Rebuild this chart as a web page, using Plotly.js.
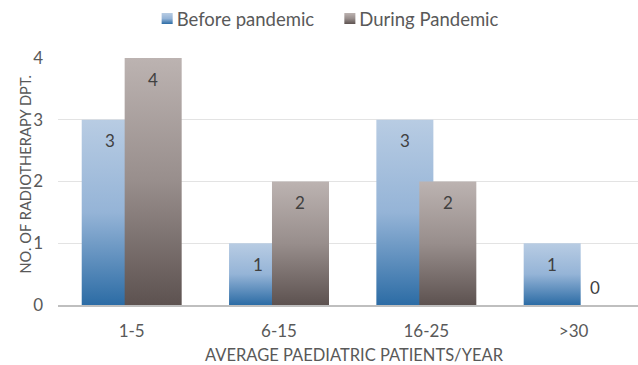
<!DOCTYPE html>
<html><head><meta charset="utf-8">
<script src="https://cdn.plot.ly/plotly-3.0.1.min.js"></script>
<style>html,body{margin:0;padding:0;background:#fff;}#chart{width:638px;height:365px;}</style>
</head><body><div id="chart"></div>
<script>
// ---- data ----
const categories = ['1-5', '6-15', '16-25', '>30'];
const beforePandemic = [3, 1, 3, 1];
const duringPandemic = [4, 2, 2, 0];
const seriesNames = ['Before pandemic', 'During Pandemic'];
const yTickValues = [0, 1, 2, 3, 4];
const xAxisTitle = 'AVERAGE PAEDIATRIC PATIENTS/YEAR';
const yAxisTitle = 'NO. OF RADIOTHERAPY DPT.';

// ---- styling ----
const FONT = 'Lato, "Open Sans", sans-serif';
const TXT = '#595959';
const BAR_W = 0.387;
const OFFSETS = [-0.339, -0.0475];
const seriesValues = [beforePandemic, duringPandemic];
const baseColors = ['#8fb0d4', '#8e8482'];
const gradIds = ['gradBlue', 'gradGray'];

const traces = seriesValues.map((vals, s) => ({
  type: 'bar',
  name: seriesNames[s],
  x: categories,
  y: vals,
  width: BAR_W,
  offset: OFFSETS[s],
  marker: {color: baseColors[s], line: {width: 0}},
  hoverinfo: 'none'
}));

const annotations = [];
seriesValues.forEach((vals, s) => {
  vals.forEach((v, i) => {
    annotations.push({
      x: i + OFFSETS[s] + BAR_W / 2, y: v, xref: 'x', yref: 'y',
      text: String(v), showarrow: false,
      yshift: v > 0 ? -21 : 18,
      font: {family: FONT, size: 17, color: '#404040'}
    });
  });
});
// axis titles placed as annotations (centred as in the reference)
annotations.push({
  xref: 'paper', yref: 'paper', x: 0.511, y: -0.202, xanchor: 'center', yanchor: 'middle',
  text: xAxisTitle, showarrow: false, font: {family: FONT, size: 16.5, color: TXT}
});
annotations.push({
  xref: 'paper', yref: 'paper', x: -0.056, y: 0.53, xanchor: 'center', yanchor: 'middle',
  textangle: -90, text: yAxisTitle, showarrow: false, font: {family: FONT, size: 14.7, color: TXT}
});

const layout = {
  width: 638, height: 365,
  margin: {l: 58, r: 0, t: 57, b: 60},
  paper_bgcolor: '#fff', plot_bgcolor: '#fff',
  barmode: 'overlay',
  showlegend: true,
  legend: {
    orientation: 'h', x: 0.452, xanchor: 'center', y: 1.157, yanchor: 'middle',
    font: {family: FONT, size: 18.5, color: TXT}, traceorder: 'normal'
  },
  xaxis: {
    type: 'category', range: [-0.5, 3.437],
    showline: true, linecolor: '#bfbfbf', linewidth: 1.5,
    ticks: '', showgrid: false, zeroline: false,
    tickfont: {family: FONT, size: 17, color: TXT}, ticklabelstandoff: 10
  },
  yaxis: {
    range: [0, 4], tickvals: yTickValues,
    showgrid: true, gridcolor: '#e3e3e3', gridwidth: 1,
    zeroline: false, showline: false, ticks: '',
    tickfont: {family: FONT, size: 17, color: TXT}, ticklabelstandoff: 14
  },
  annotations: annotations
};

const gradStops = [
  [['0%', '#b8cce3'], ['50%', '#95b4d7'], ['100%', '#2c6ca5']],
  [['0%', '#bcb3b1'], ['50%', '#988e8c'], ['100%', '#5d5250']]
];

function applyGradients(gd) {
  const svg = gd.querySelector('svg.main-svg');
  if (!svg) return;
  let defs = svg.querySelector('defs#customGrads');
  if (!defs) {
    const NS = 'http://www.w3.org/2000/svg';
    defs = document.createElementNS(NS, 'defs');
    defs.setAttribute('id', 'customGrads');
    gradIds.forEach((id, k) => {
      const g = document.createElementNS(NS, 'linearGradient');
      g.setAttribute('id', id);
      g.setAttribute('x1', '0'); g.setAttribute('y1', '0');
      g.setAttribute('x2', '0'); g.setAttribute('y2', '1');
      gradStops[k].forEach(([o, c]) => {
        const st = document.createElementNS(NS, 'stop');
        st.setAttribute('offset', o); st.setAttribute('stop-color', c);
        g.appendChild(st);
      });
      defs.appendChild(g);
    });
    svg.insertBefore(defs, svg.firstChild);
  }
  gd.querySelectorAll('.barlayer .trace').forEach((tr, k) => {
    tr.querySelectorAll('path').forEach(p => { p.style.fill = 'url(#' + gradIds[k] + ')'; });
  });
  gd.querySelectorAll('.legend .traces').forEach((tr, k) => {
    tr.querySelectorAll('.legendpoints path').forEach(p => {
      p.style.fill = 'url(#' + gradIds[k] + ')';
      p.setAttribute('transform', 'translate(30.5,0) scale(0.92)');
    });
  });
}

const gd = document.getElementById('chart');
Plotly.newPlot(gd, traces, layout, {staticPlot: true, displayModeBar: false}).then(() => {
  applyGradients(gd);
  gd.on('plotly_afterplot', () => applyGradients(gd));
});
</script>
</body></html>
